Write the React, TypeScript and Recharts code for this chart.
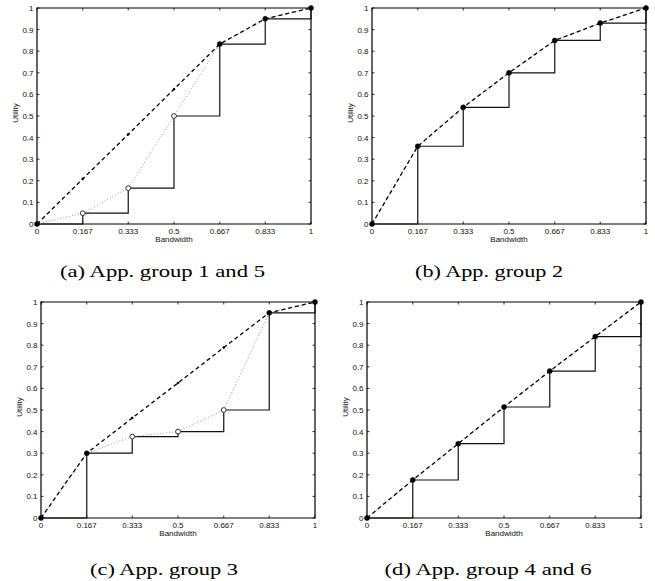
import React from 'react';
import { LineChart, Line, XAxis, YAxis, ReferenceArea } from 'recharts';

const bandwidth = [0, 0.167, 0.333, 0.5, 0.667, 0.833, 1];
const xTicks = [0, 0.167, 0.333, 0.5, 0.667, 0.833, 1];
const yTicks = [0, 0.1, 0.2, 0.3, 0.4, 0.5, 0.6, 0.7, 0.8, 0.9, 1];

const utilityA = [0, 0.05, 0.166, 0.5, 0.833, 0.95, 1];
const hullA = [0, 0.209, 0.415, 0.624, 0.833, 0.95, 1];
const utilityB = [0, 0.36, 0.54, 0.7, 0.85, 0.93, 1];
const hullB = [0, 0.36, 0.54, 0.7, 0.85, 0.93, 1];
const utilityC = [0, 0.3, 0.377, 0.4, 0.5, 0.95, 1];
const hullC = [0, 0.3, 0.463, 0.625, 0.789, 0.95, 1];
const utilityD = [0, 0.176, 0.344, 0.514, 0.68, 0.84, 1];
const hullD = [0, 0.176, 0.344, 0.514, 0.68, 0.84, 1];

const captions = ['(a) App. group 1 and 5', '(b) App. group 2', '(c) App. group 3', '(d) App. group 4 and 6'];

const W = 330;
const H = 250;
const PL = 37;
const PR = 311;
const PT = 8;
const PB = 224;
const SANS = '"Liberation Sans", Arial, Helvetica, sans-serif';
const SERIF = '"Liberation Serif", "Times New Roman", serif';

const XTick = (props: any) => {
  const { x, payload } = props;
  return (
    <g>
      <line x1={x} y1={PB} x2={x} y2={PB - 2.5} stroke="#000" strokeWidth={0.8} />
      <line x1={x} y1={PT} x2={x} y2={PT + 2.5} stroke="#000" strokeWidth={0.8} />
      <text x={x} y={PB + 9.5} textAnchor="middle" fontSize={8} fontFamily={SANS} fill="#111">
        {String(payload.value)}
      </text>
    </g>
  );
};

const YTick = (props: any) => {
  const { y, payload } = props;
  return (
    <g>
      <line x1={PL} y1={y} x2={PL + 2.5} y2={y} stroke="#000" strokeWidth={0.8} />
      <line x1={PR} y1={y} x2={PR - 2.5} y2={y} stroke="#000" strokeWidth={0.8} />
      <text x={PL - 3.5} y={y + 3} textAnchor="end" fontSize={8} fontFamily={SANS} fill="#111">
        {String(payload.value)}
      </text>
    </g>
  );
};

function buildRows(util: number[], hull: number[]) {
  return bandwidth.map((b, i) => ({ b, utility: util[i], hull: hull[i] }));
}

const hullDot = (props: any) => {
  const { cx, cy, payload, index } = props;
  if (cx == null || cy == null) return <g key={`hd-${index}`} />;
  const same = Math.abs(payload.hull - payload.utility) < 0.005;
  return <circle key={`hd-${index}`} cx={cx} cy={cy} r={same ? 2.5 : 1.1} fill="#000" stroke="#000" strokeWidth={0.5} />;
};

const utilDot = (props: any) => {
  const { cx, cy, payload, index } = props;
  if (cx == null || cy == null) return <g key={`ud-${index}`} />;
  const same = Math.abs(payload.hull - payload.utility) < 0.005;
  if (same) return <g key={`ud-${index}`} />;
  return <circle key={`ud-${index}`} cx={cx} cy={cy} r={2.4} fill="#fff" stroke="#333" strokeWidth={1} />;
};

const Panel = ({ util, hull, left, top }: { util: number[]; hull: number[]; left: number; top: number }) => {
  const rows = buildRows(util, hull);
  return (
    <div style={{ position: 'absolute', left, top, width: W, height: H }}>
      <LineChart width={W} height={H} data={rows} margin={{ top: PT, right: W - PR, bottom: H - PB - 22, left: 0 }}>
        <XAxis
          dataKey="b"
          type="number"
          domain={[0, 1]}
          ticks={xTicks}
          axisLine={false}
          tickLine={false}
          height={22}
          interval={0}
          tick={<XTick />}
          label={{
            value: 'Bandwidth',
            content: () => (
              <text x={(PL + PR) / 2} y={242} textAnchor="middle" fontSize={8} fontFamily={SANS} fill="#111">
                Bandwidth
              </text>
            ),
          }}
        />
        <YAxis
          type="number"
          domain={[0, 1]}
          ticks={yTicks}
          axisLine={false}
          tickLine={false}
          width={PL}
          interval={0}
          tick={<YTick />}
          label={{
            value: 'Utility',
            content: () => (
              <text x={18} y={113} textAnchor="middle" fontSize={8} fontFamily={SANS} fill="#111" transform="rotate(-90 18 113)">
                Utility
              </text>
            ),
          }}
        />
        <Line
          type="stepAfter"
          dataKey="utility"
          stroke="#111"
          strokeWidth={1.2}
          dot={false}
          activeDot={false}
          isAnimationActive={false}
        />
        <Line
          type="linear"
          dataKey="utility"
          stroke="#9a9a9a"
          strokeWidth={1}
          strokeDasharray="1 2"
          dot={utilDot}
          activeDot={false}
          isAnimationActive={false}
        />
        <Line
          type="linear"
          dataKey="hull"
          stroke="#000"
          strokeWidth={1.3}
          strokeDasharray="4 3"
          dot={hullDot}
          activeDot={false}
          isAnimationActive={false}
        />
        <ReferenceArea x1={0} x2={1} y1={0} y2={1} fill="none" fillOpacity={0} stroke="#000" strokeWidth={1.2} />
      </LineChart>
    </div>
  );
};

export default function App() {
  return (
    <div style={{ position: 'absolute', left: 0, top: 0, width: 655, height: 581, background: '#fff', overflow: 'hidden' }}>
      <Panel util={utilityA} hull={hullA} left={0} top={0} />
      <Panel util={utilityB} hull={hullB} left={335} top={0} />
      <Panel util={utilityC} hull={hullC} left={4} top={294} />
      <Panel util={utilityD} hull={hullD} left={330} top={294} />
      <svg width={655} height={581} style={{ position: 'absolute', left: 0, top: 0, pointerEvents: 'none' }}>
        <text x={162.5} y={277} textAnchor="middle" fontSize={17} fontFamily={SERIF} fill="#000" textLength={205} lengthAdjust="spacingAndGlyphs">
          {captions[0]}
        </text>
        <text x={489} y={277} textAnchor="middle" fontSize={17} fontFamily={SERIF} fill="#000" textLength={148} lengthAdjust="spacingAndGlyphs">
          {captions[1]}
        </text>
        <text x={164} y={575} textAnchor="middle" fontSize={17} fontFamily={SERIF} fill="#000" textLength={148} lengthAdjust="spacingAndGlyphs">
          {captions[2]}
        </text>
        <text x={488} y={575} textAnchor="middle" fontSize={17} fontFamily={SERIF} fill="#000" textLength={207} lengthAdjust="spacingAndGlyphs">
          {captions[3]}
        </text>
      </svg>
    </div>
  );
}
